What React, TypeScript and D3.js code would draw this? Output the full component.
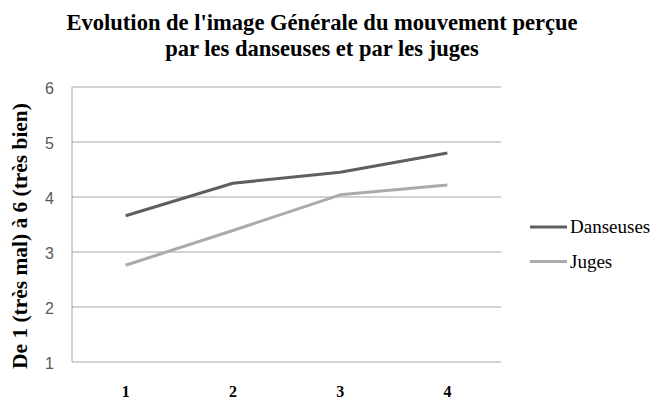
import React from "react";
import * as d3 from "d3";

const categories = ["1", "2", "3", "4"];
const yTicks = [1, 2, 3, 4, 5, 6];
const seriesNames = ["Danseuses", "Juges"];
const danseuses = [3.66, 4.25, 4.45, 4.8];
const juges = [2.76, 3.39, 4.04, 4.22];
const seriesValues = [danseuses, juges];
const seriesColors = ["#5f5f5f", "#ababab"];

const W = 651, H = 401;
const M = { left: 72, right: 501, top: 87, bottom: 362 };
const serif = "Liberation Serif, Times New Roman, serif";

export default function App() {
  const x = d3.scaleBand().domain(categories).range([M.left, M.right]);
  const y = d3.scaleLinear().domain([1, 6]).range([M.bottom, M.top]);
  const line = d3
    .line<number>()
    .x((_, i) => (x(categories[i]) as number) + x.bandwidth() / 2)
    .y((d) => y(d));

  return (
    <svg width={W} height={H} style={{ position: "absolute", left: 0, top: 0, background: "#fff" }}>
      <g transform="translate(322,0) scale(0.94,1)">
        <text x={0} y={30} textAnchor="middle" fontFamily={serif} fontWeight="bold" fontSize={24} fill="#000">
          Evolution de l'image Générale du mouvement perçue
        </text>
        <text x={0} y={56} textAnchor="middle" fontFamily={serif} fontWeight="bold" fontSize={24} fill="#000">
          par les danseuses et par les juges
        </text>
      </g>
      {yTicks.map((t) => (
        <g key={t}>
          <line x1={M.left} x2={M.right} y1={y(t)} y2={y(t)} stroke="#a6a6a6" strokeWidth={1} />
          <text x={54} y={y(t) + 7} textAnchor="end" fontFamily="Liberation Sans" fontSize={16} fill="#595959">
            {t}
          </text>
        </g>
      ))}
      <line x1={M.left} x2={M.left} y1={M.top} y2={M.bottom} stroke="#a6a6a6" strokeWidth={1} />
      {categories.map((c) => (
        <text key={c} x={(x(c) as number) + x.bandwidth() / 2} y={397} textAnchor="middle" fontFamily={serif} fontWeight="bold" fontSize={16} fill="#000">
          {c}
        </text>
      ))}
      <g transform={`translate(27,236) rotate(-90) scale(1.02,1)`}>
        <text x={0} y={0} textAnchor="middle" fontFamily={serif} fontWeight="bold" fontSize={21} fill="#000">
          De 1 (très mal) à 6 (très bien)
        </text>
      </g>
      {seriesValues.map((vals, i) => (
        <path key={i} d={line(vals) as string} fill="none" stroke={seriesColors[i]} strokeWidth={3} strokeLinejoin="round" />
      ))}
      {seriesNames.map((n, i) => (
        <g key={n} transform={`translate(530,${227 + i * 34.5})`}>
          <line x1={0} x2={37} y1={0} y2={0} stroke={seriesColors[i]} strokeWidth={3} />
          <text x={40} y={6} fontFamily={serif} fontSize={19} fill="#000">
            {n}
          </text>
        </g>
      ))}
    </svg>
  );
}
